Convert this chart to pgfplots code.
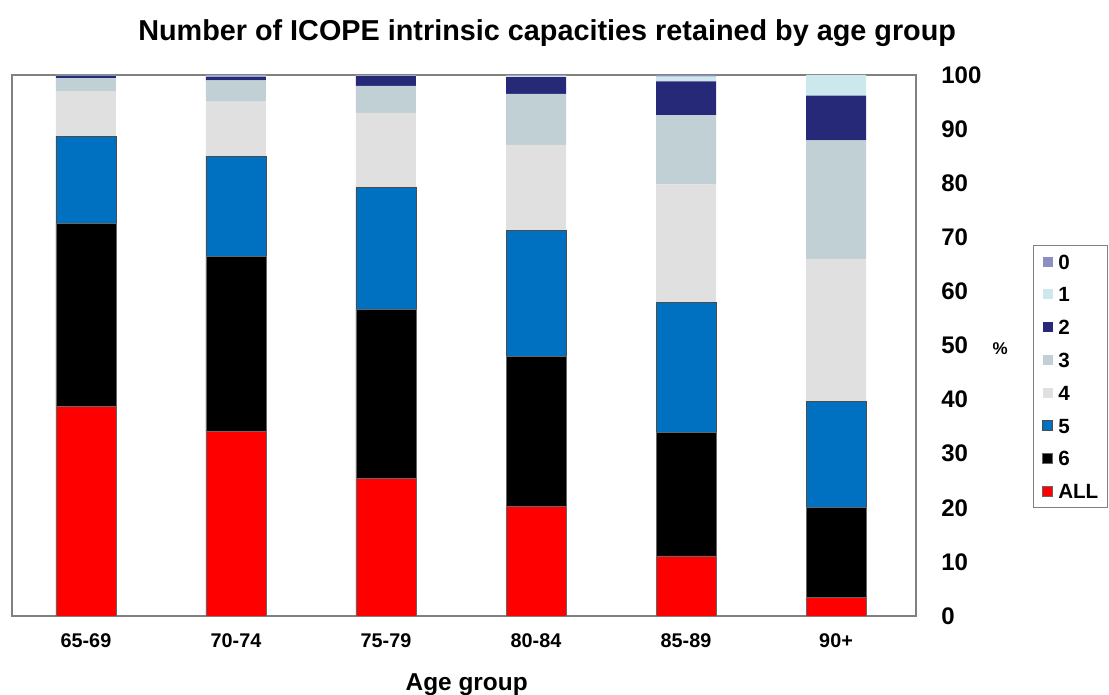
\documentclass[border=0pt]{standalone}
\usepackage{pgfplots}
\pgfplotsset{compat=1.18}
\usepackage{fontspec}
\setmainfont{Liberation Sans}

\definecolor{czero}{RGB}{142,142,194}
\definecolor{cone}{RGB}{204,232,236}
\definecolor{ctwo}{RGB}{38,40,120}
\definecolor{cthree}{RGB}{192,208,212}
\definecolor{cfour}{RGB}{224,224,224}
\definecolor{cfive}{RGB}{0,112,192}
\definecolor{csix}{RGB}{0,0,0}
\definecolor{call}{RGB}{255,0,0}

\pgfplotsset{
  sqleg/.style={legend image code/.code={\fill[##1] (0pt,-2.5pt) rectangle (5pt,2.5pt);}},
}

\begin{document}
\begin{tikzpicture}
\useasboundingbox (-6pt,-39.5pt) rectangle (548.5pt,308pt);
\begin{axis}[
  at={(0,0)}, anchor=south west,
  scale only axis,
  width=452pt, height=270.5pt,
  ybar stacked,
  bar width=30pt,
  xmin=-0.493, xmax=5.533,
  ymin=0, ymax=100,
  xtick=data,
  xticklabels={65-69,70-74,75-79,80-84,85-89,90+},
  ytick={0,10,...,100},
  yticklabel pos=right,
  major tick length=0pt,
  axis line style={draw=gray, line width=0.6pt},
  /pgf/number format/assume math mode=true,
  xticklabel style={font=\fontsize{9.9}{11}\selectfont\bfseries, anchor=north, inner sep=0pt, yshift=-8.5pt},
  yticklabel style={font=\fontsize{12}{14}\selectfont\bfseries, anchor=west, inner sep=0pt, xshift=12.5pt},
  title={Number of ICOPE intrinsic capacities retained by age group},
  title style={font=\fontsize{14.4}{17}\selectfont\bfseries, at={(axis description cs:0.592,1.0647)}, anchor=base, yshift=-6.5pt, inner sep=0pt},
  xlabel={Age group},
  every axis x label/.style={at={(axis description cs:0.503,0)}, anchor=north, yshift=-28.7pt, inner sep=0pt, font=\fontsize{12.2}{14}\selectfont\bfseries},
  ylabel={\%},
  every axis y label/.style={at={(axis description cs:1.093,0.494)}, anchor=center, rotate=0, inner sep=0pt, font=\fontsize{8.5}{10}\selectfont\bfseries},
  reverse legend,
  legend cell align=left,
  legend style={at={(axis description cs:1.1294,0.6858)}, anchor=north west,
    draw=gray, line width=0.5pt, inner xsep=4.5pt, inner ysep=4.3pt, row sep=8.9pt, column sep=2.5pt,
    font=\fontsize{10.3}{12}\selectfont\bfseries,
    nodes={inner sep=0pt, text height=7.5pt, text depth=0pt}},
]
\addplot[fill=call, draw=black!60, line width=0.4pt, sqleg] coordinates {(0,38.8) (1,34.2) (2,25.5) (3,20.3) (4,11.1) (5,3.5)};
\addlegendentry{ALL}
\addplot[fill=csix, draw=black!60, line width=0.4pt, sqleg] coordinates {(0,33.8) (1,32.2) (2,31.2) (3,27.6) (4,22.9) (5,16.5)};
\addlegendentry{6}
\addplot[fill=cfive, draw=black!70, line width=0.4pt, sqleg] coordinates {(0,16.1) (1,18.6) (2,22.5) (3,23.3) (4,24.0) (5,19.7)};
\addlegendentry{5}
\addplot[fill=cfour, draw=none, sqleg] coordinates {(0,8.3) (1,10.1) (2,13.8) (3,15.9) (4,21.8) (5,26.3)};
\addlegendentry{4}
\addplot[fill=cthree, draw=none, sqleg] coordinates {(0,2.4) (1,3.9) (2,5.0) (3,9.4) (4,12.8) (5,21.9)};
\addlegendentry{3}
\addplot[fill=ctwo, draw=none, sqleg] coordinates {(0,0.5) (1,0.7) (2,1.8) (3,3.1) (4,6.2) (5,8.3)};
\addlegendentry{2}
\addplot[fill=cone, draw=none, sqleg] coordinates {(0,0.1) (1,0.2) (2,0.1) (3,0.3) (4,0.9) (5,3.8)};
\addlegendentry{1}
\addplot[fill=czero, draw=none, sqleg] coordinates {(0,0.0) (1,0.1) (2,0.1) (3,0.1) (4,0.3) (5,0.0)};
\addlegendentry{0}
\end{axis}
\end{tikzpicture}
\end{document}
